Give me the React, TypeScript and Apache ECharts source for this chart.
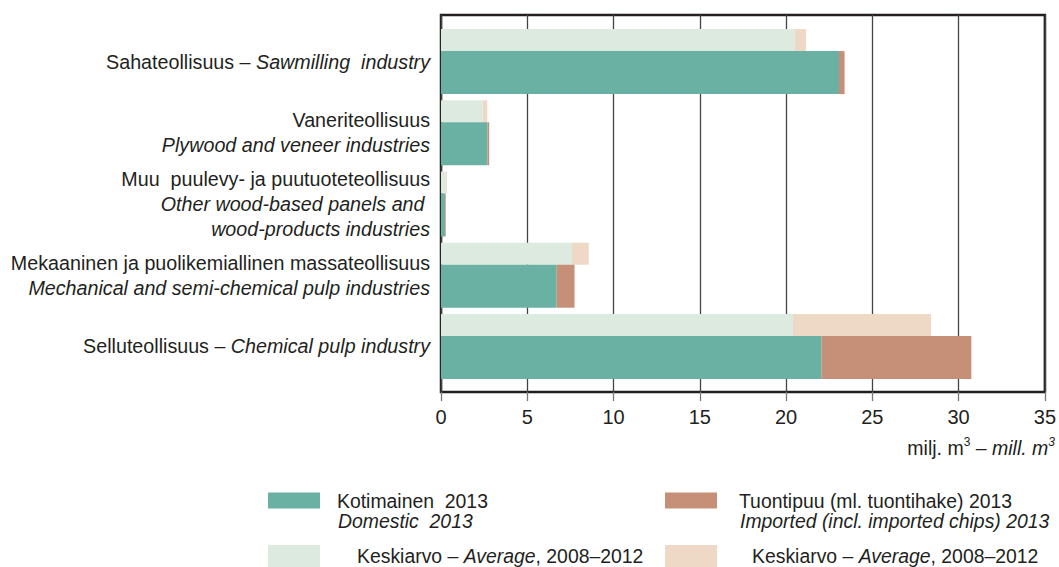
import React, { useEffect, useRef } from "react";
import * as echarts from "echarts";

// ---- data ----
const categoryFi = [
  "Sahateollisuus",
  "Vaneriteollisuus",
  "Muu  puulevy- ja puutuoteteollisuus",
  "Mekaaninen ja puolikemiallinen massateollisuus",
  "Selluteollisuus",
];
const categoryEn = [
  "Sawmilling  industry",
  "Plywood and veneer industries",
  "Other wood-based panels and \nwood-products industries",
  "Mechanical and semi-chemical pulp industries",
  "Chemical pulp industry",
];
const sameLine = [true, false, false, false, true];

const avgDomestic = [20.4, 2.4, 0.27, 7.55, 20.3];
const avgImported = [0.65, 0.27, 0.07, 0.97, 7.95];
const domestic2013 = [22.95, 2.68, 0.23, 6.67, 21.95];
const imported2013 = [0.32, 0.1, 0.04, 1.03, 8.63];

const xMin = 0;
const xMax = 35;
const xInterval = 5;

const seriesNames = ["Keskiarvo kotimainen", "Keskiarvo tuonti", "Kotimainen 2013", "Tuontipuu 2013"];
const colors = ["#dceae0", "#eed8c6", "#6ab1a3", "#c68f77"];

const FONT = "'Liberation Sans', Arial, sans-serif";
const TXT = "#231f20";

export default function App() {
  const ref = useRef<HTMLDivElement>(null);
  useEffect(() => {
    document.body.style.margin = "0";
    const chart = echarts.init(ref.current!, null, { renderer: "svg" });

    const LF = 19.4;
    const base = { fontFamily: FONT, fontSize: LF, color: TXT, lineHeight: 19 };
    const legendRich = {
      n: { ...base },
      i: { ...base, fontStyle: "italic" },
      p12: { ...base, padding: [0, 0, 0, 12] },
      p17: { ...base, padding: [0, 0, 0, 17] },
      p32: { ...base, padding: [0, 0, 0, 32] },
      p30: { ...base, padding: [0, 0, 0, 30] },
    };
    const mkLegend = (name: string, left: number, top: number, h: number, fmt: string) => ({
      data: [name],
      left,
      top,
      orient: "horizontal",
      padding: 0,
      itemWidth: 52,
      itemHeight: h,
      icon: "rect",
      selectedMode: false,
      formatter: () => fmt,
      textStyle: { ...base, rich: legendRich },
    });

    const option: any = {
      animation: false,
      backgroundColor: "#ffffff",
      textStyle: { fontFamily: FONT },
      grid: [
        {
          left: 441,
          width: 607,
          top: 15,
          height: 377,
          show: true,
          borderColor: TXT,
          borderWidth: 2.5,
          backgroundColor: "transparent",
        },
        { left: 441, width: 607, top: 26, height: 356 },
      ],
      xAxis: [
        {
          gridIndex: 0,
          type: "value",
          min: xMin,
          max: xMax,
          interval: xInterval,
          axisLine: { show: false },
          axisTick: { show: true, length: 9, lineStyle: { color: "#777", width: 1.3 } },
          splitLine: { show: true, lineStyle: { color: "#444", width: 1.3 } },
          axisLabel: { fontFamily: FONT, fontSize: 20, color: TXT, margin: 15 },
        },
        { gridIndex: 1, type: "value", min: xMin, max: xMax, show: false },
      ],
      yAxis: [
        { gridIndex: 0, type: "value", show: false },
        {
          gridIndex: 1,
          type: "category",
          inverse: true,
          data: categoryFi,
          axisLine: { show: false },
          axisTick: { show: false },
          splitLine: { show: false },
          axisLabel: {
            margin: 11,
            align: "right",
            formatter: (_v: string, idx: number) => {
              const en = categoryEn[idx]
                .split("\n")
                .map((s) => "{i|" + s + "}")
                .join("\n");
              return sameLine[idx]
                ? "{n|" + categoryFi[idx] + " – }" + en
                : "{n|" + categoryFi[idx] + "}\n" + en;
            },
            rich: {
              n: { fontFamily: FONT, fontSize: 19.7, color: TXT, lineHeight: 24.8, align: "right" },
              i: { fontFamily: FONT, fontSize: 19.7, color: TXT, fontStyle: "italic", lineHeight: 24.8, align: "right" },
            },
          },
        },
      ],
      legend: [
        mkLegend(seriesNames[2], 268, 491, 16, "{p12|Kotimainen  2013}"),
        mkLegend(seriesNames[3], 665, 491, 16, "{p17|Tuontipuu (ml. tuontihake) 2013}"),
        mkLegend(seriesNames[0], 268, 545, 22, "{p32|Keskiarvo – }{i|Average}{n|, 2008–2012}"),
        mkLegend(seriesNames[1], 665, 545, 22, "{p30|Keskiarvo – }{i|Average}{n|, 2008–2012}"),
      ],
      graphic: [
        {
          type: "text",
          left: 338,
          top: 511,
          style: { text: "Domestic  2013", font: `italic ${LF}px ${FONT}`, fill: TXT, lineHeight: 19 },
        },
        {
          type: "text",
          left: 740,
          top: 511,
          style: { text: "Imported (incl. imported chips) 2013", font: `italic ${LF}px ${FONT}`, fill: TXT, lineHeight: 19 },
        },
        {
          type: "text",
          right: 4,
          top: 436,
          style: {
            text: "{n|milj. m}{s|3}{n| – }{i|mill. m}{si|3}",
            rich: {
              n: { fontFamily: FONT, fontSize: 19.5, fill: TXT, lineHeight: 24 },
              i: { fontFamily: FONT, fontSize: 19.5, fill: TXT, fontStyle: "italic", lineHeight: 24 },
              s: { fontFamily: FONT, fontSize: 12, fill: TXT, lineHeight: 14, verticalAlign: "top" },
              si: { fontFamily: FONT, fontSize: 12, fill: TXT, fontStyle: "italic", lineHeight: 14, verticalAlign: "top" },
            },
          },
        },
      ],
      series: [
        {
          name: seriesNames[0],
          type: "bar",
          xAxisIndex: 1,
          yAxisIndex: 1,
          stack: "avg",
          barWidth: 22,
          barGap: "0%",
          itemStyle: { color: colors[0] },
          data: avgDomestic,
        },
        {
          name: seriesNames[1],
          type: "bar",
          xAxisIndex: 1,
          yAxisIndex: 1,
          stack: "avg",
          barWidth: 22,
          barGap: "0%",
          itemStyle: { color: colors[1] },
          data: avgImported,
        },
        {
          name: seriesNames[2],
          type: "bar",
          xAxisIndex: 1,
          yAxisIndex: 1,
          stack: "y2013",
          barWidth: 43,
          barGap: "0%",
          itemStyle: { color: colors[2] },
          data: domestic2013,
        },
        {
          name: seriesNames[3],
          type: "bar",
          xAxisIndex: 1,
          yAxisIndex: 1,
          stack: "y2013",
          barWidth: 43,
          barGap: "0%",
          itemStyle: { color: colors[3] },
          data: imported2013,
        },
      ],
    };
    chart.setOption(option);
    return () => chart.dispose();
  }, []);
  return <div ref={ref} style={{ position: "absolute", left: 0, top: 0, width: 1059, height: 567 }} />;
}
